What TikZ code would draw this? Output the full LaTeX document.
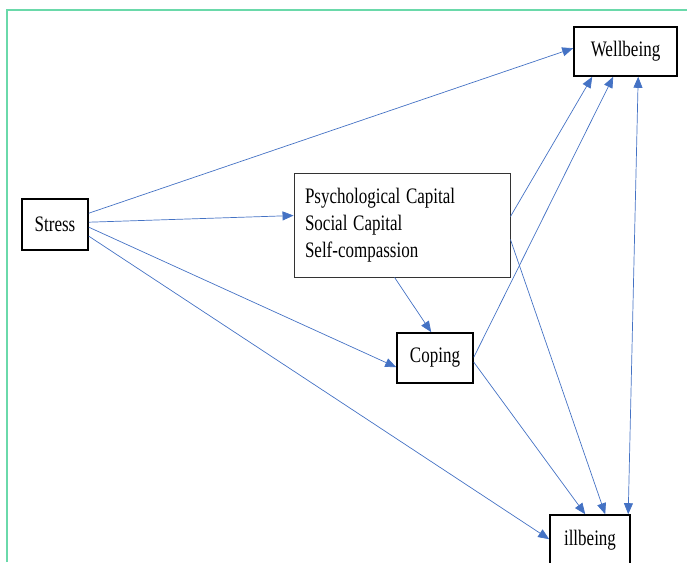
\documentclass[tikz,border=0pt]{standalone}
\usepackage{fontspec}
\setmainfont{Liberation Serif}
\usepackage{graphicx}
\usetikzlibrary{arrows.meta}

\definecolor{linkblue}{HTML}{4472C4}
\definecolor{framegreen}{HTML}{6AD9AA}
\newcommand{\tallText}[1]{\scalebox{1}[1.3]{#1}}

\begin{document}
\begin{tikzpicture}[x=1pt,y=-1pt,
	box/.style={draw=black, line width=1.6pt, inner sep=0pt, font=\fontsize{17}{21}\selectfont},
	tip/.style={-{Triangle[length=11pt,width=9pt]}},
	link/.style={linkblue, line width=0.7pt, tip},
	]
	\useasboundingbox (0,0) rectangle (687,562);
	
	% the frame
	\draw[framegreen, line width=2pt] (7,562) -- (7,9.5) -- (687,9.5);
	
	% the boxes
	\node[box, minimum width=66pt, minimum height=51pt] (stress) at (55,224.5) {\tallText{Stress}};
	\node[box, minimum width=103pt, minimum height=49pt] (well) at (625.5,51.5) {\tallText{Wellbeing}};
	\node[box, line width=0.9pt, draw=black!80, inner xsep=11pt, text width=194pt, align=left,
		minimum width=216pt, minimum height=104pt] (psych) at (402,225)
		{\tallText{\begin{tabular}{@{}l@{}}Psychological Capital\\Social Capital\\Self-compassion\end{tabular}}};
	\node[box, minimum width=76pt, minimum height=50pt] (coping) at (435,358) {\tallText{Coping}};
	\node[box, minimum width=80pt, minimum height=51pt] (ill) at (590,540.5) {\tallText{illbeing}};
	
	% from Stress
	\draw[link] ([yshift=-15pt]stress.north east) -- ([yshift=-22pt]well.north west);
	\draw[link] ([yshift=-24pt]stress.north east) -- ([yshift=-43pt]psych.north west);
	\draw[link] ([yshift=-29pt]stress.north east) -- ([yshift=-35pt]coping.north west);
	\draw[link] ([yshift=-38pt]stress.north east) -- ([yshift=-25pt]ill.north west);
	
	% from the middle box
	\draw[link] ([xshift=101pt]psych.south west) -- ([xshift=35pt]coping.north west);
	\draw[link] ([yshift=-44pt]psych.north east) -- ([xshift=19pt]well.south west);
	\draw[link] ([yshift=-67pt]psych.north east) -- ([xshift=56pt]ill.north west);
	
	% from Coping
	\draw[link] ([yshift=-25pt]coping.north east) -- ([xshift=40pt]well.south west);
	\draw[link] ([yshift=-30pt]coping.north east) -- ([xshift=36pt]ill.north west);
	
	% both ways
	\draw[link, {Triangle[length=11pt,width=9pt]}-{Triangle[length=11pt,width=9pt]}]
		([xshift=79pt]ill.north west) -- ([xshift=65pt]well.south west);
	
\end{tikzpicture}
\end{document}
